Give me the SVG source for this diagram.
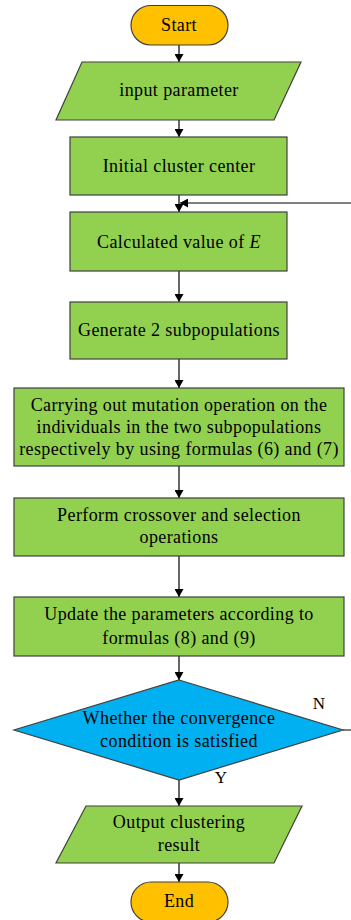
<svg xmlns="http://www.w3.org/2000/svg" width="351" height="920" viewBox="0 0 351 920">
  <defs>
    <marker id="arrow" markerWidth="9" markerHeight="9" refX="8" refY="4.5" orient="auto" markerUnits="userSpaceOnUse">
      <path d="M0,0 L8,4.5 L0,9 Z" fill="#000"/>
    </marker>
  </defs>
  <style>
    .term { fill: #FFC000; stroke: #404040; stroke-width: 1.2; }
    .proc { fill: #92D050; stroke: #404040; stroke-width: 1.2; }
    .dec  { fill: #00B0F0; stroke: #404040; stroke-width: 1.2; }
    .lbl  { font-family: "Liberation Serif", "Times New Roman", serif; font-size: 18px; letter-spacing: 0.4px; fill: #000; text-anchor: middle; }
    .yn   { font-family: "Liberation Serif", "Times New Roman", serif; font-size: 17px; fill: #000; text-anchor: middle; }
    .edge { fill: none; stroke: #000; stroke-width: 1.2; marker-end: url(#arrow); }
  </style>
  <rect width="351" height="920" fill="#fff"/>

  <!-- connectors -->
  <g id="connectors">
    <line class="edge" x1="179" y1="45" x2="179" y2="62"/>
    <line class="edge" x1="179" y1="120" x2="179" y2="137"/>
    <line class="edge" x1="179" y1="195" x2="179" y2="212"/>
    <line class="edge" x1="179" y1="271" x2="179" y2="302"/>
    <line class="edge" x1="179" y1="359" x2="179" y2="388"/>
    <line class="edge" x1="179" y1="466" x2="179" y2="498"/>
    <line class="edge" x1="179" y1="556" x2="179" y2="597"/>
    <line class="edge" x1="179" y1="656" x2="179" y2="680"/>
    <line class="edge" x1="179" y1="780" x2="179" y2="806"/>
    <line class="edge" x1="179" y1="863" x2="179" y2="882"/>
    <!-- loop back when not converged -->
    <path class="edge" d="M343,730 H353 V203 H180"/>
  </g>

  <g id="start">
    <rect class="term" x="131" y="5.5" width="97" height="39.5" rx="19.75"/>
    <text class="lbl" x="179" y="31">Start</text>
  </g>

  <g id="input">
    <polygon class="proc" points="82,62 301,62 274,120 56,120"/>
    <text class="lbl" x="179" y="96">input parameter</text>
  </g>

  <g id="init">
    <rect class="proc" x="70" y="137" width="217" height="58"/>
    <text class="lbl" x="179" y="172">Initial cluster center</text>
  </g>

  <g id="calc">
    <rect class="proc" x="70" y="212" width="217" height="59"/>
    <text class="lbl" x="179" y="248">Calculated value of <tspan font-style="italic">E</tspan></text>
  </g>

  <g id="generate">
    <rect class="proc" x="70" y="302" width="217" height="57"/>
    <text class="lbl" x="179" y="336">Generate 2 subpopulations</text>
  </g>

  <g id="mutation">
    <rect class="proc" x="14" y="388" width="330" height="78"/>
    <text class="lbl" x="179" y="411">Carrying out mutation operation on the</text>
    <text class="lbl" x="179" y="433">individuals in the two subpopulations</text>
    <text class="lbl" x="179" y="455">respectively by using formulas (6) and (7)</text>
  </g>

  <g id="crossover">
    <rect class="proc" x="14" y="498" width="330" height="58"/>
    <text class="lbl" x="179" y="521">Perform crossover and selection</text>
    <text class="lbl" x="179" y="543">operations</text>
  </g>

  <g id="update">
    <rect class="proc" x="14" y="597" width="330" height="59"/>
    <text class="lbl" x="179" y="620">Update the parameters according to</text>
    <text class="lbl" x="179" y="644">formulas (8) and (9)</text>
  </g>

  <g id="converge">
    <polygon class="dec" points="179,680 343,730 179,780 14,730"/>
    <text class="lbl" x="179" y="724">Whether the convergence</text>
    <text class="lbl" x="179" y="747">condition is satisfied</text>
    <text class="yn" x="319" y="709">N</text>
    <text class="yn" x="221" y="783">Y</text>
  </g>

  <g id="output">
    <polygon class="proc" points="86,806 302,806 274,863 56,863"/>
    <text class="lbl" x="179" y="828">Output clustering</text>
    <text class="lbl" x="179" y="851">result</text>
  </g>

  <g id="end">
    <rect class="term" x="131" y="882" width="97" height="40" rx="20"/>
    <text class="lbl" x="179" y="907">End</text>
  </g>
</svg>
